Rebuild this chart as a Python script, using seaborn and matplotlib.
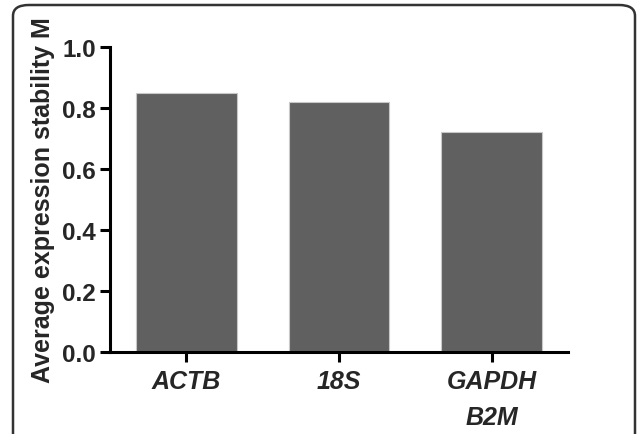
import matplotlib
matplotlib.use("Agg")
import matplotlib.pyplot as plt
import seaborn as sns
import pandas as pd
from matplotlib.patches import FancyBboxPatch

genes = ["ACTB", "18S", "GAPDH\nB2M"]
values = [0.85, 0.82, 0.72]
yticks = [0.0, 0.2, 0.4, 0.6, 0.8, 1.0]
ylabel = "Average expression stability M"

sns.set_style("ticks")
plt.rcParams["font.family"] = ["Liberation Sans", "DejaVu Sans"]

df = pd.DataFrame({"gene": genes, "M": values})

fig = plt.figure(figsize=(6.37, 4.35), dpi=100)
ax = fig.add_axes([110/637, 1-353/435, (568-110)/637, (353-48)/435])

sns.barplot(data=df, x="gene", y="M", ax=ax, color="#606060", width=0.66,
            saturation=1, edgecolor="#c8c8c8", linewidth=0.8)

ax.set_xlim(-0.5, 2.5)
ax.set_ylim(0, 1.0)
ax.set_yticks(yticks)
ax.set_yticklabels([f"{t:.1f}" for t in yticks], fontsize=17.5, fontweight="bold")
ax.set_xticks(range(len(genes)))
ax.set_xticklabels(genes, fontsize=18, fontweight="bold", fontstyle="italic",
                   linespacing=1.65)
ax.set_xlabel("")
ax.set_ylabel(ylabel, fontsize=18, fontweight="bold", labelpad=5)
sns.despine(ax=ax)
for s in ["left", "bottom"]:
    ax.spines[s].set_linewidth(2.2)
    ax.spines[s].set_color("black")
ax.tick_params(axis="both", width=2.2, length=7, color="black", direction="out", pad=3)
ax.tick_params(axis="x", pad=5)

frame = FancyBboxPatch((13/637, -20/435), (635-13)/637, (432-3+20)/435,
                       boxstyle="round,pad=0,rounding_size=0.025",
                       transform=fig.transFigure, fill=False,
                       edgecolor="#333333", linewidth=1.8, clip_on=False)
fig.patches.append(frame)

fig.savefig("out.png", dpi=100)
